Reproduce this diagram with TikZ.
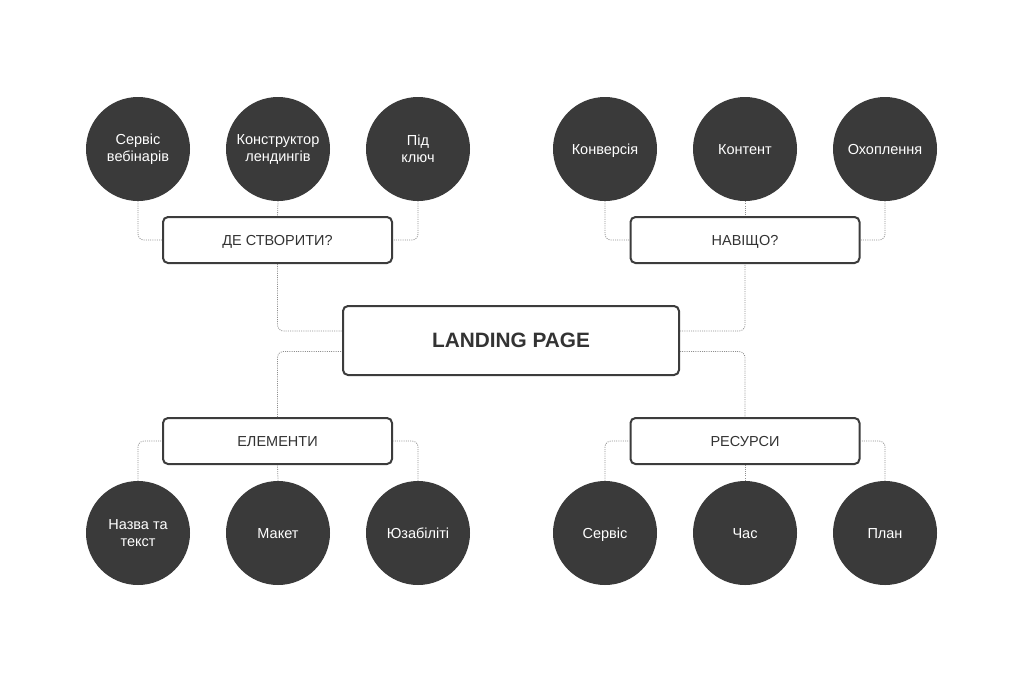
\documentclass[tikz,border=0pt]{standalone}
\usepackage{fontspec}
\setmainfont{Liberation Sans}
\usepackage{xcolor}
\usetikzlibrary{positioning}
\definecolor{bubblegray}{HTML}{3A3A3A}
\definecolor{framegray}{HTML}{3C3C3C}
\definecolor{dotgray}{HTML}{8E8E8E}
\definecolor{textgray}{HTML}{333333}

\begin{document}
\begin{tikzpicture}[x=1pt, y=-1pt,
    bubble/.style={circle, fill=bubblegray, minimum size=104pt, inner sep=0pt, text=white, align=center, font=\fontsize{14.5}{17}\selectfont},
    oneline/.style={text height=10.4pt, text depth=0pt},
    topic/.style={rectangle, rounded corners=5pt, draw=framegray, line width=2pt, fill=white, minimum width=229pt, minimum height=46pt, text=textgray, text height=10.4pt, text depth=0pt, font=\fontsize{14.5}{17}\selectfont},
    hub/.style={topic, minimum width=336pt, minimum height=69pt, text height=14.9pt, font=\fontsize{20.8}{25}\selectfont\bfseries},
    link/.style={draw=dotgray, line width=0.8pt, dash pattern=on 1pt off 1.2pt, rounded corners=6pt}
]
    \useasboundingbox[fill=white] (0,0) rectangle (1024,683);

    % centre
    \node[hub] (landing) at (511, 340.5) {LANDING PAGE};

    % four questions
    \node[topic] (where) at (277.5, 240) {ДЕ СТВОРИТИ?};
    \node[topic] (why) at (745, 240) {НАВІЩО?};
    \node[topic] (parts) at (277.5, 441) {ЕЛЕМЕНТИ};
    \node[topic] (means) at (745, 441) {РЕСУРСИ};

    % top circles
    \node[bubble] (webinar) at (138, 149) {Сервіс\\вебінарів};
    \node[bubble] (builder) at (278, 149) {Конструктор\\лендингів};
    \node[bubble] (turnkey) at (418, 149) {Під\\ключ};
    \node[bubble, oneline] (conv) at (605, 149) {Конверсія};
    \node[bubble, oneline] (content) at (745, 149) {Контент};
    \node[bubble, oneline] (reach) at (885, 149) {Охоплення};

    % bottom circles
    \node[bubble] (title) at (138, 533) {Назва та\\текст};
    \node[bubble, oneline] (layout) at (278, 533) {Макет};
    \node[bubble, oneline] (usab) at (418, 533) {Юзабіліті};
    \node[bubble, oneline] (service) at (605, 533) {Сервіс};
    \node[bubble, oneline] (time) at (745, 533) {Час};
    \node[bubble, oneline] (plan) at (885, 533) {План};

    % links to the centre
    \draw[link] (where.south) |- ([yshift=9.5pt]landing.west);
    \draw[link] (parts.north) |- ([yshift=-11pt]landing.west);
    \draw[link] ([yshift=9.5pt]landing.east) -| (why.south);
    \draw[link] ([yshift=-11pt]landing.east) -| (means.north);

    % links to the circles
    \draw[link] (webinar.south) |- (where.west);
    \draw[link] (builder.south) -- (where.north);
    \draw[link] (turnkey.south) |- (where.east);
    \draw[link] (conv.south) |- (why.west);
    \draw[link] (content.south) -- (why.north);
    \draw[link] (reach.south) |- (why.east);
    \draw[link] (title.north) |- (parts.west);
    \draw[link] (layout.north) -- (parts.south);
    \draw[link] (usab.north) |- (parts.east);
    \draw[link] (service.north) |- (means.west);
    \draw[link] (time.north) -- (means.south);
    \draw[link] (plan.north) |- (means.east);
\end{tikzpicture}
\end{document}
